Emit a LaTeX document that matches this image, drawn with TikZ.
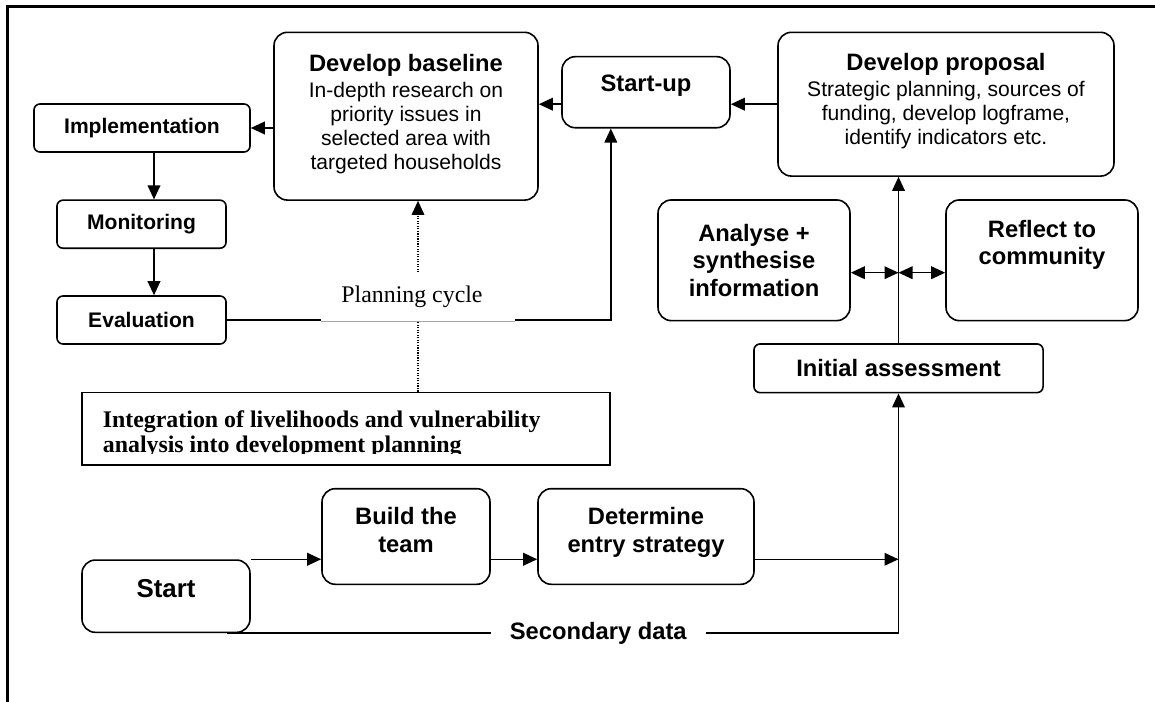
\documentclass[tikz,border=0pt]{standalone}
\usepackage{fontspec}
\setmainfont{Liberation Serif}
\setsansfont{Liberation Sans}
\usepackage{tikz}
\usetikzlibrary{arrows.meta}
\newcommand{\boxhead}[1]{{\bfseries\fontsize{17.8}{18.2}\selectfont #1}}

\begin{document}
\begin{tikzpicture}[x=0.75pt, y=-0.75pt,
	bigbox/.style={
		draw, line width=1.2pt, rounded corners=10pt, align=center, inner sep=4pt,
		font=\sffamily\bfseries\fontsize{17.8}{20.7}\selectfont
	},
	stepbox/.style={
		draw, line width=1.2pt, rounded corners=4.5pt, align=center, inner sep=4pt,
		font=\sffamily\bfseries\fontsize{15.8}{18.2}\selectfont
	},
	textbox/.style={bigbox, font=\sffamily\fontsize{15.8}{18.2}\selectfont},
	plainbox/.style={draw, line width=1.2pt},
	arrow/.style={-{Triangle[length=10.5pt, width=9.5pt]}, line width=1.1pt},
	twoway/.style={{Triangle[length=10.5pt, width=9.5pt]}-{Triangle[length=10.5pt, width=9.5pt]}, line width=1.1pt},
	dotarrow/.style={-{Triangle[length=10.5pt, width=9.5pt]}, densely dotted, line width=0.9pt}
	]
	
	\useasboundingbox (0,0) rectangle (1155,702);
	\draw[line width=1.6pt] (1155,6.5) -- (7.5,6.5) -- (7.5,702);
	
	\node[textbox, minimum width=198pt, minimum height=125.8pt] (baseline) at (406,116.2)
	{\boxhead{Develop baseline}\\[1pt]In-depth research on\\priority issues in\\selected area with\\targeted households\\[-12pt]};
	
	\node[stepbox, minimum width=162pt, minimum height=36pt] (impl) at (142,128) {Implementation};
	\node[stepbox, minimum width=126.8pt, minimum height=36pt] (mon) at (141.5,224.2) {Monitoring};
	\node[stepbox, minimum width=126.8pt, minimum height=36pt] (eval) at (141.5,320) {Evaluation};
	
	\node[bigbox, minimum width=126pt, minimum height=53.3pt] (startup) at (646,92.2) {Start-up\\[-7.5pt]};
	
	\node[textbox, minimum width=252pt, minimum height=107.8pt] (proposal) at (946,104.2)
	{\boxhead{Develop proposal}\\[1pt]Strategic planning, sources of\\funding, develop logframe,\\identify indicators etc.\\[-10.5pt]};
	
	\node[bigbox, minimum width=144pt, minimum height=90.5pt] (analyse) at (754,260.3) {Analyse +\\synthesise\\information};
	\node[bigbox, minimum width=144pt, minimum height=90.5pt] (reflect) at (1042,260.3) {Reflect to\\community\\[6pt]};
	
	\node[stepbox, font=\sffamily\bfseries\fontsize{17.8}{20.7}\selectfont,
	minimum width=216.8pt, minimum height=36.5pt] (initial) at (898.5,368.3) {Initial assessment};
	
	\node[plainbox, minimum width=396pt, minimum height=54.5pt] (integ) at (346,428.7) {};
	\begin{scope}
		\clip (82,392.3) rectangle (610,453.3);
		\node[anchor=north west, inner sep=0pt, align=left,
		font=\rmfamily\bfseries\fontsize{17.9}{18.75}\selectfont] (integtext) at (102.6,410.2)
		{Integration of livelihoods and vulnerability\\analysis into development planning};
	\end{scope}
	
	\node[bigbox, minimum width=126pt, minimum height=71.7pt] (build) at (406,536.5) {Build the\\team\\[-11pt]};
	\node[bigbox, minimum width=162pt, minimum height=71.7pt] (determine) at (646,536.5) {Determine\\entry strategy\\[-11pt]};
	\node[bigbox, font=\sffamily\bfseries\fontsize{19.4}{22}\selectfont,
	minimum width=126pt, minimum height=54.2pt] (start) at (166,596.2) {Start\\[-11pt]};
	
	\coordinate (spine) at (154,0);
	\coordinate (probe) at (418,0);
	\coordinate (hub) at (898.5,272.7);
	
	\draw[arrow] (baseline.west |- impl.east) -- (impl.east);
	\draw[arrow] (impl.south -| spine) -- (mon.north -| spine);
	\draw[arrow] (mon.south -| spine) -- (eval.north -| spine);
	\draw[arrow] (proposal.west) -- (startup.east |- proposal.west);
	\draw[arrow] (startup.west |- proposal.west) -- (baseline.east |- proposal.west);
	\draw[arrow] (eval.east) -- (integ.east |- eval.east) -- (integ.east |- startup.south);
	\draw[dotarrow] (integ.north -| probe) -- (baseline.south -| probe);
	
	\draw[twoway] (analyse.east |- hub) -- (hub);
	\draw[twoway] (hub) -- (reflect.west |- hub);
	\draw[arrow] (initial.north) -- (initial.north |- proposal.south);
	
	\draw[arrow] (start.north east) -- (build.west |- start.north east);
	\draw[arrow] (build.east |- start.north) -- (determine.west |- start.north);
	\draw[arrow] (determine.east |- start.north) -- (initial.south |- start.north);
	\draw[arrow] ([xshift=-18pt]start.south east) --
	node[pos=0.553, fill=white, inner xsep=14.5pt, inner ysep=2pt,
	font=\sffamily\bfseries\fontsize{17.8}{20}\selectfont] (secondary) {Secondary data}
	(initial.south |- start.south) -- (initial.south);
	
	\node[fill=white, inner sep=0pt, minimum width=145.5pt, minimum height=37.4pt,
	font=\rmfamily\fontsize{17.9}{20}\selectfont] (cycle) at (418,296.6) {\hspace*{-9pt}Planning cycle};
	\draw[gray!70, line width=0.6pt] (cycle.south west) -- (cycle.south east);
	
\end{tikzpicture}
\end{document}
